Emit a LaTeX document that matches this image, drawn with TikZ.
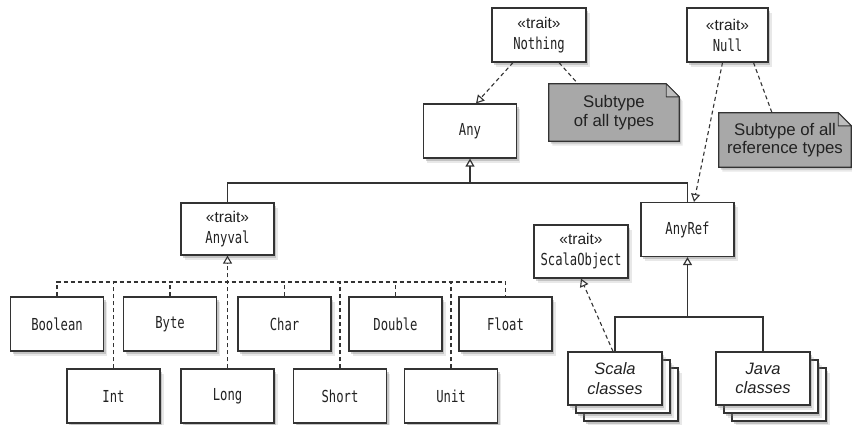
\documentclass[tikz,border=0pt]{standalone}
\usepackage{fontspec}
\setmainfont{Liberation Sans}
\newfontfamily\monof[FakeStretch=0.74]{DejaVu Sans Mono}
\usetikzlibrary{arrows.meta,shadows,backgrounds}
\definecolor{ln}{HTML}{333333}
\definecolor{tx}{HTML}{222222}
\definecolor{notegray}{HTML}{A8A8A8}
\definecolor{foldgray}{HTML}{BDBDBD}
\newcommand{\traitlbl}{{\rmfamily\fontsize{15.5}{21}\selectfont «trait»}}
\tikzset{
  softshadow/.style={
    drop shadow={shadow xshift=3.5pt, shadow yshift=-4.5pt, opacity=0.18},
    drop shadow={shadow xshift=2pt, shadow yshift=-2.5pt, opacity=0.35}},
  box/.style={draw=ln, fill=white, line width=1.2pt, minimum width=93pt, minimum height=54pt,
    inner sep=0pt, align=center, text=tx, font=\fontsize{16.5}{21}\monof, softshadow},
  stackbox/.style={box, font=\fontsize{16.5}{19.5}\selectfont\itshape},
  notebox/.style={inner sep=0pt, align=center, text=tx, font=\fontsize{16.8}{18.5}\selectfont},
  notepath/.style={draw=ln, fill=notegray, line width=1.2pt, softshadow},
  foldpath/.style={draw=ln, fill=foldgray, line width=0.9pt, line join=round},
  conn/.style={draw=ln, line width=1.2pt},
  dconn/.style={conn, line width=1.1pt, dash pattern=on 4pt off 3pt},
  oarrow/.style={-{Triangle[open,length=8pt,width=9pt]}},
}
\begin{document}
\begin{tikzpicture}[x=1pt,y=1pt]
\useasboundingbox (0,0) rectangle (852,-424);

% top
\node[box, minimum width=94pt] (nothing) at (539,-35) {\traitlbl\\Nothing};
\node[box, minimum width=81pt] (null) at (727.5,-35) {\traitlbl\\Null};
\node[box] (any) at (470,-131) {Any};
\node[box, minimum height=52pt] (anyval) at (227.5,-229) {\traitlbl\\Anyval};
\node[box] (anyref) at (687.5,-229.5) {AnyRef};
\node[box, minimum width=94pt, minimum height=53pt] (scalaobj) at (581,-251.5) {\traitlbl\\ScalaObject};

% notes
\node[notebox, minimum width=130pt, minimum height=57pt] (note1) at (614,-112.5) {Subtype\\of all types};
\node[notebox, minimum width=132pt, minimum height=54pt] (note2) at (785,-140) {Subtype of all\\reference types};
\begin{scope}[on background layer]
  \fill[white] (0,0) rectangle (852,-424);
  \path[notepath] (note1.north west) -- ([xshift=-13pt]note1.north east)
    -- ([yshift=-13pt]note1.north east) -- (note1.south east) -- (note1.south west) -- cycle;
  \path[foldpath] ([xshift=-13pt]note1.north east) -- ([xshift=-13pt,yshift=-13pt]note1.north east)
    -- ([yshift=-13pt]note1.north east) -- cycle;
  \path[notepath] (note2.north west) -- ([xshift=-13pt]note2.north east)
    -- ([yshift=-13pt]note2.north east) -- (note2.south east) -- (note2.south west) -- cycle;
  \path[foldpath] ([xshift=-13pt]note2.north east) -- ([xshift=-13pt,yshift=-13pt]note2.north east)
    -- ([yshift=-13pt]note2.north east) -- cycle;
\end{scope}

% value types
\node[box] (boolean) at (57,-324) {Boolean};
\node[box] (byte) at (170,-324) {Byte};
\node[box] (char) at (284.5,-324) {Char};
\node[box] (double) at (395.5,-324) {Double};
\node[box] (float) at (505.5,-324) {Float};
\node[box] (int) at (113.5,-396) {Int};
\node[box] (long) at (227.5,-396) {Long};
\node[box] (short) at (340,-396) {Short};
\node[box] (unit) at (451,-396) {Unit};

% class stacks
\node[stackbox, minimum height=53pt, minimum width=94pt] (scala3) at (631,-394.5) {};
\node[stackbox, minimum height=53pt, minimum width=94pt] (scala2) at (623,-386.5) {};
\node[stackbox, minimum height=53pt, minimum width=94pt] (scala) at (615,-378.5) {Scala\\classes};
\node[stackbox, minimum height=53pt, minimum width=94pt] (java3) at (779,-394.5) {};
\node[stackbox, minimum height=53pt, minimum width=94pt] (java2) at (771,-386.5) {};
\node[stackbox, minimum height=53pt, minimum width=94pt] (java) at (763,-378.5) {Java\\classes};

% connectors
\draw[dconn, oarrow] ([xshift=-26pt]nothing.south) -- ([xshift=6pt]any.north);
\draw[dconn] ([xshift=20pt]nothing.south) -- ([xshift=-36pt]note1.north);
\draw[dconn, oarrow] ([xshift=-5pt]null.south) -- ([xshift=6.5pt]anyref.north);
\draw[dconn] ([xshift=26pt]null.south) -- ([xshift=-13pt]note2.north);

\coordinate (j1) at (470,-183);
\draw[conn] (anyval.north) |- (j1) -| (anyref.north);
\draw[conn, oarrow] (j1) -- (any.south);

\coordinate (j2) at (227.5,-282);
\draw[dconn] (boolean.north) |- (j2) -| (float.north);
\draw[dconn] (byte.north) -- (byte.north |- j2);
\draw[dconn] (char.north) -- (char.north |- j2);
\draw[dconn] (double.north) -- (double.north |- j2);
\draw[dconn] (int.north) -- (int.north |- j2);
\draw[dconn] (short.north) -- (short.north |- j2);
\draw[dconn] (unit.north) -- (unit.north |- j2);
\draw[dconn, oarrow] (long.north) -- (anyval.south);

\coordinate (j3) at (687.5,-317);
\draw[conn] (scala.north) |- (j3) -| (java.north);
\draw[conn, oarrow] (j3) -- (anyref.south);
\draw[dconn, oarrow] ([xshift=-2pt]scala.north) -- (scalaobj.south);
\end{tikzpicture}
\end{document}
